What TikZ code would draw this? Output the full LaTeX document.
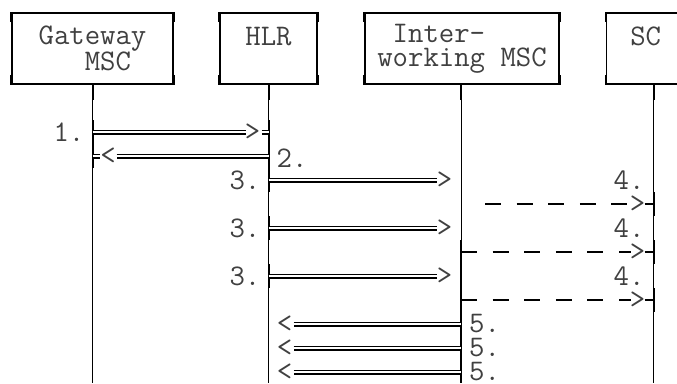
\documentclass[tikz,border=0pt]{standalone}
\usepackage{fontspec}
\usetikzlibrary{positioning,calc}
\newcommand{\asciifont}{\ttfamily\fontsize{29.9}{24}\selectfont}

\tikzset{
  entity/.style={draw,line width=1.3pt,minimum height=71pt,align=left,inner sep=0pt,font=\asciifont,text=black!75},
  cornerbar/.style={line width=2.4pt},
  lifeline/.style={line width=1pt},
  activebar/.style={line width=2pt},
  msg/.style={double,double distance=2.4pt,line width=1.3pt},
  dashmsg/.style={line width=1.5pt,dash pattern=on 16pt off 15.6pt},
  glyph/.style={font=\asciifont,text=black!75,inner sep=0pt}
}

\begin{document}
\begin{tikzpicture}[x=1pt,y=-1pt]
  \useasboundingbox (0,0) rectangle (677,383);
  \node[entity,minimum width=161pt] (gw) at (92.5,48.5) {Gateway\\\ \ \ MSC};
  \node[entity,minimum width=97pt] (hlr) at (268.5,48.5) {HLR\\\phantom{M}};
  \node[entity,minimum width=194pt] (iw) at (462,48.5) {\ Inter-\\working MSC};
  \node[entity,minimum width=78pt,anchor=west] (sc) at (606,48.5) {SC\\\phantom{M}};
  \foreach \b in {gw,hlr,iw,sc}{
    \draw[cornerbar] (\b.north west) -- ++(0,10);
    \draw[cornerbar] (\b.south west) -- ++(0,-10);
    \draw[cornerbar] (\b.north east) -- ++(0,10);
    \draw[cornerbar] (\b.south east) -- ++(0,-10);
  }

  \coordinate (gwl) at (gw.south);
  \coordinate (hlrl) at (hlr.south);
  \coordinate (iwl) at ([xshift=-1pt]iw.south);
  \coordinate (scl) at ([xshift=8pt]sc.south);
  \foreach \l in {gwl,hlrl,iwl,scl}{
    \coordinate (\l end) at (\l |- 0,383);
    \draw[lifeline] (\l) -- (\l end);
    \foreach \r/\y in {1/132,2/156,3/180,4/204,5/228,6/252,7/276,8/300,9/324,10/348,11/372}
      \coordinate (\l\r) at (\l |- 0,\y);
  }
  \foreach \l/\a/\b in {gwl/84/100,hlrl/84/100,iwl/84/100,scl/84/100,gwl/120/168,hlrl/120/192,
      hlrl/216/240,hlrl/264/288,iwl/240/383,scl/192/216,scl/240/264,scl/288/312}
    \draw[activebar] (\l |- 0,\a) -- (\l |- 0,\b);

  \draw[msg] (gwl1) -- ([xshift=-23pt]hlrl1);
  \node[glyph] (a1) at ([xshift=-16pt]hlrl1) {>};
  \draw[msg] ([xshift=-7pt]hlrl1) -- (hlrl1);
  \node[glyph,anchor=east] (n1) at ([xshift=-8pt]gwl1) {1.};

  \draw[msg] (gwl2) -- ([xshift=7pt]gwl2);
  \node[glyph] (a2) at ([xshift=15.5pt]gwl2) {<};
  \draw[msg] ([xshift=24pt]gwl2) -- (hlrl2);
  \node[glyph,anchor=west] (n2) at ([xshift=8pt,yshift=-2pt]hlrl2) {2.};

  \foreach \r/\d in {3/4,5/6,7/8}{
    \draw[msg] (hlrl\r) -- ([xshift=-24pt]iwl\r);
    \node[glyph] (a\r) at ([xshift=-16.5pt]iwl\r) {>};
    \node[glyph,anchor=east] (n\r) at ([xshift=-8pt]hlrl\r) {3.};
    \node[glyph,anchor=east] (m\r) at ([xshift=-9pt]scl\r) {4.};
  }
  \draw[dashmsg] ([xshift=24pt]iwl4) -- ([xshift=-23pt]scl4);
  \draw[dashmsg] (iwl6) -- ([xshift=-23pt]scl6);
  \draw[dashmsg] (iwl8) -- ([xshift=-23pt]scl8);
  \foreach \d in {4,6,8}{
    \node[glyph] (b\d) at ([xshift=-16pt]scl\d) {>};
    \draw[line width=1.5pt] ([xshift=-9pt]scl\d) -- (scl\d);
  }

  \foreach \r in {9,10,11}{
    \node[glyph] (a\r) at ([xshift=16pt]hlrl\r) {<};
    \draw[msg] ([xshift=25pt]hlrl\r) -- (iwl\r);
    \node[glyph,anchor=west] (n\r) at ([xshift=8pt]iwl\r) {5.};
  }
\end{tikzpicture}
\end{document}
